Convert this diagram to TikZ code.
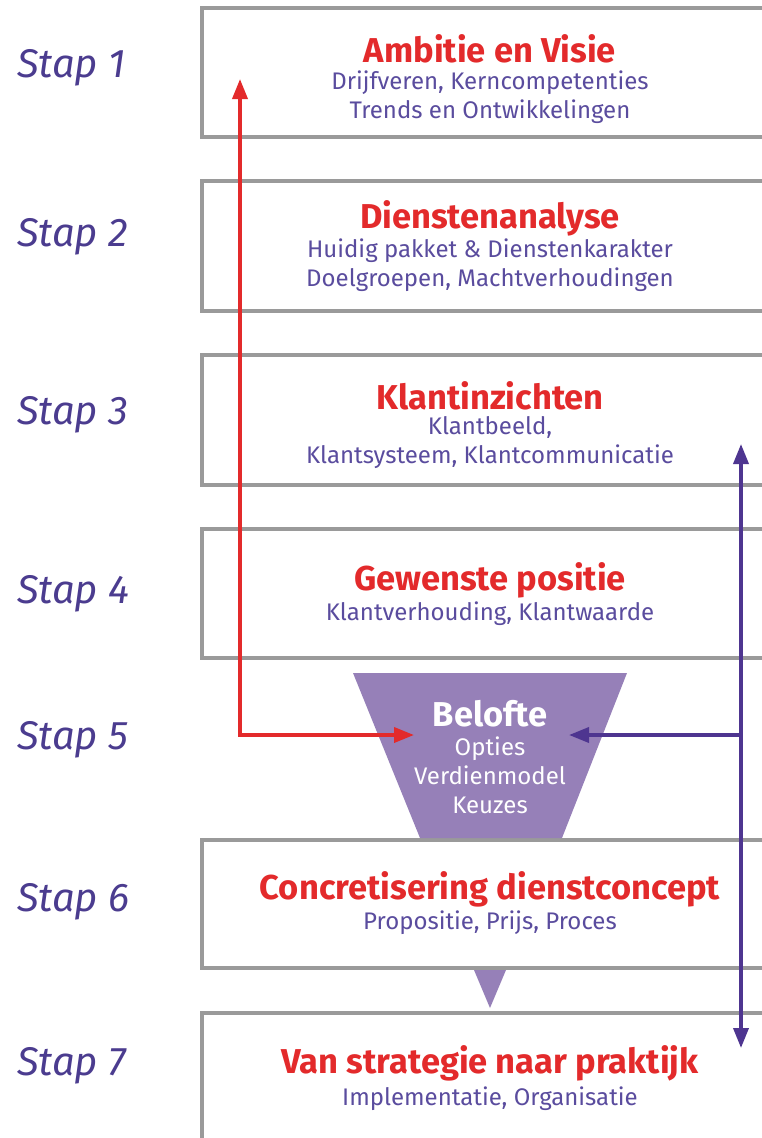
\documentclass[tikz,border=0pt]{standalone}
\usepackage{fontspec}
\setmainfont{Fira Sans}
\usetikzlibrary{arrows.meta}
\definecolor{tred}{HTML}{E32A2B}
\definecolor{tsub}{HTML}{5A4C9E}
\definecolor{tstap}{HTML}{4B3C8F}
\definecolor{tfill}{HTML}{9680B8}
\definecolor{tarrow}{HTML}{4E3590}
\definecolor{tgray}{HTML}{9A9A9A}
\tikzset{
  stepbox/.style={draw=tgray, line width=3.2pt, fill=white, minimum width=576pt, inner sep=0pt},
  title/.style={text=tred, font=\fontsize{34.5}{38}\selectfont\bfseries, inner sep=0pt, anchor=center},
  sub/.style={text=tsub, font=\fontsize{24}{29}\selectfont, inner sep=0pt, align=center, anchor=center},
  staplabel/.style={text=tstap, font=\fontsize{40}{44}\selectfont\itshape, inner sep=0pt, anchor=west},
  tip/.tip={Triangle[length=20pt,width=15pt]},
  redarrow/.style={draw=tred, line width=3.6pt, tip-tip},
  purplearrow/.style={draw=tarrow, line width=3.6pt},
}
\begin{document}
\begin{tikzpicture}[x=1pt,y=-1pt]
\useasboundingbox (0,0) rectangle (762,1138);
\clip (0,0) rectangle (762,1138);
% boxes
\node[stepbox, minimum height=129pt] (b1) at (490,72.5) {};
\node[stepbox, minimum height=130pt] (b2) at (490,246) {};
\node[stepbox, minimum height=130pt] (b3) at (490,420) {};
\node[stepbox, minimum height=129pt] (b4) at (490,593.5) {};
\node[stepbox, minimum height=128pt] (b6) at (490,904) {};
\node[stepbox, minimum height=160pt] (b7) at (490,1093) {};
% step labels
\node[staplabel] (s1) at (17,68) {Stap 1};
\node[staplabel] (s2) at (17,237) {Stap 2};
\node[staplabel] (s3) at (17,415) {Stap 3};
\node[staplabel] (s4) at (17,594) {Stap 4};
\node[staplabel] (s5) at (17,740) {Stap 5};
\node[staplabel] (s6) at (17,902) {Stap 6};
\node[staplabel] (s7) at (17,1066) {Stap 7};
% texts
\node[title] (t1) at (490,49) {Ambitie en Visie};
\node[sub] (u1) at (490,97.5) {Drijfveren, Kerncompetenties\\Trends en Ontwikkelingen};
\node[title] (t2) at (490,218) {Dienstenanalyse};
\node[sub] (u2) at (490,265.5) {Huidig pakket \& Dienstenkarakter\\Doelgroepen, Machtverhoudingen};
\node[title] (t3) at (490,396) {Klantinzichten};
\node[sub] (u3) at (490,442.5) {Klantbeeld,\\Klantsysteem, Klantcommunicatie};
\node[title] (t4) at (490,580) {Gewenste positie};
\node[sub] (u4) at (490,613.5) {Klantverhouding, Klantwaarde};
% belofte funnel
\fill[tfill] (353,673) -- (627,673) -- (562,838) -- (420,838) -- cycle;
\node[title, text=white] (t5) at (490,714) {Belofte};
\node[sub, text=white] (u5) at (490,775.5) {Opties\\Verdienmodel\\Keuzes};
\node[title] (t6) at (490,889) {Concretisering dienstconcept};
\node[sub] (u6) at (490,922.5) {Propositie, Prijs, Proces};
\node[title] (t7) at (490,1063) {Van strategie naar praktijk};
\node[sub] (u7) at (490,1098.5) {Implementatie, Organisatie};
% small triangle
\fill[tfill] (474,970) -- (506,970) -- (490,1008) -- cycle;
% arrows
\coordinate (rc) at (240,735);
\coordinate (rtop) at (240,79);
\coordinate (rin) at (414,735);
\coordinate (pc) at (741,735);
\coordinate (ptop) at (741,444);
\coordinate (pbot) at (741,1048);
\coordinate (pin) at (569,735);
\draw[redarrow] (rtop) -- (rc) -- (rin);
\draw[purplearrow, tip-tip] (ptop) -- (pbot);
\draw[purplearrow, -tip] (pc) -- (pin);
\end{tikzpicture}
\end{document}
